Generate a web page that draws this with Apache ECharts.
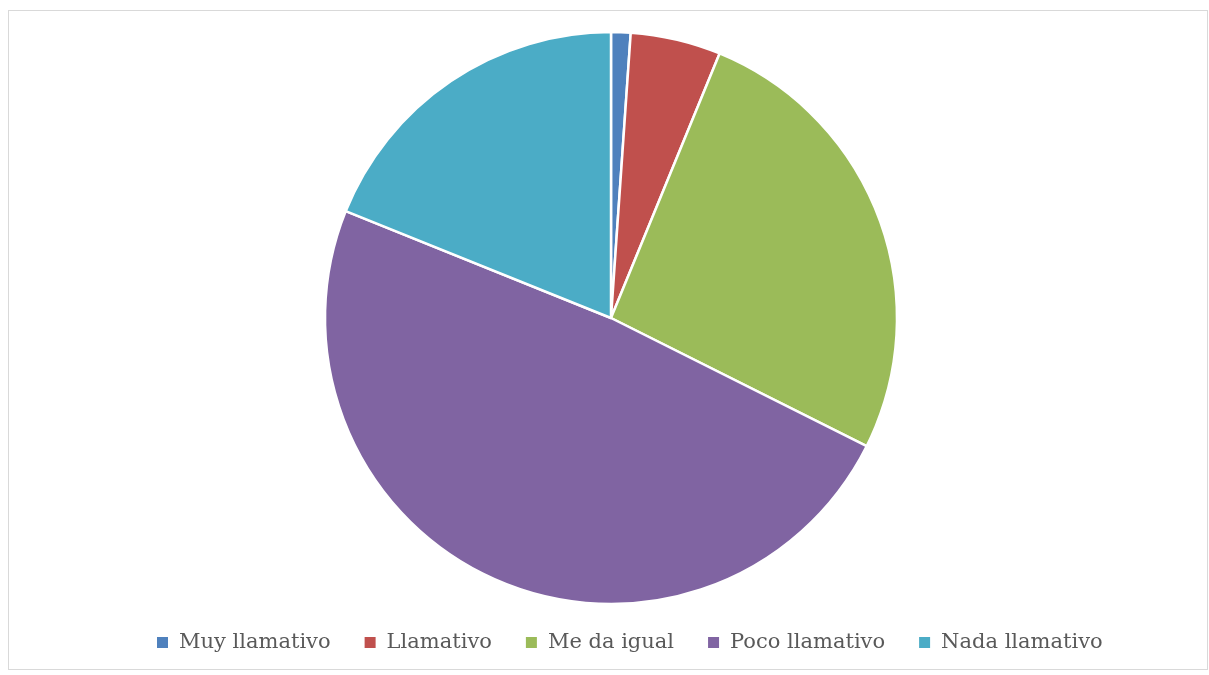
<!DOCTYPE html>
<html>
<head>
<meta charset="utf-8">
<script src="https://cdn.jsdelivr.net/npm/echarts@6/dist/echarts.min.js"></script>
<style>
  html, body { margin: 0; padding: 0; background: #ffffff; }
  #frame { position: absolute; left: 8px; top: 10px; width: 1200px; height: 660px; border: 1px solid #d9d9d9; box-sizing: border-box; }
  #chart { position: absolute; left: 0; top: 0; width: 1209px; height: 675px; }
</style>
</head>
<body>
<div id="frame"></div>
<div id="chart"></div>
<script>
// Survey answers (percent of respondents)
const categories = ['Muy llamativo', 'Llamativo', 'Me da igual', 'Poco llamativo', 'Nada llamativo'];
const values = [1.1, 5.1, 26.2, 48.7, 18.9];
const colors = ['#4F81BD', '#C0504D', '#9BBB59', '#8064A2', '#4BACC6'];

const chart = echarts.init(document.getElementById('chart'), null, { renderer: 'canvas' });
chart.setOption({
  animation: false,
  color: colors,
  legend: {
    bottom: 22,
    left: 155,
    padding: 0,
    itemWidth: 13,
    itemHeight: 13,
    itemGap: 32,
    icon: 'rect',
    textStyle: { fontFamily: 'DejaVu Serif', fontSize: 21, color: '#595959', padding: [0, 0, 0, 5] },
    data: categories
  },
  series: [{
    type: 'pie',
    center: [611, 318],
    radius: 286,
    startAngle: 90,
    clockwise: true,
    label: { show: false },
    labelLine: { show: false },
    emphasis: { disabled: true },
    itemStyle: { borderColor: '#ffffff', borderWidth: 2.5 },
    data: categories.map((name, i) => ({ name, value: values[i] }))
  }]
});
</script>
</body>
</html>
